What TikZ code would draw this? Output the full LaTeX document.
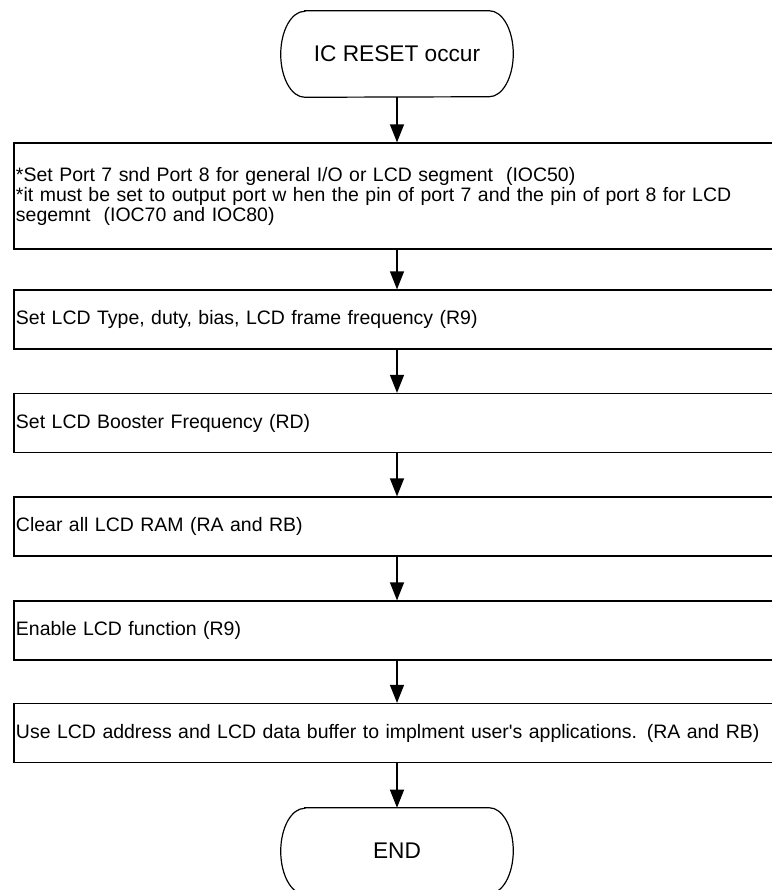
\documentclass[tikz,border=0pt]{standalone}
\usepackage{fontspec}
\setmainfont{Liberation Sans}
\usetikzlibrary{
  arrows.meta,
  positioning,
}
\tikzset{
  >={Triangle[length=13.5pt,width=10.5pt]},
  termnode/.style={minimum width=174pt, minimum height=64.5pt, inner sep=0pt,
    font=\fontsize{17pt}{19pt}\selectfont},
  procbox/.style={draw, line width=0.9pt, minimum width=574.5pt, inner xsep=1.5pt,
    text width=571.5pt, align=left, font=\fontsize{14.6pt}{15pt}\selectfont},
  flow/.style={->, line width=0.9pt},
}

\begin{document}
\begin{tikzpicture}[x=0.75pt, y=-0.75pt]
      \useasboundingbox (0, 0) rectangle (772, 890);

      % terminals
      \node [termnode] (reset) at (397, 54) {IC RESET occur};
      \node [termnode] (finish) at (397, 851) {END};
      \foreach \t in {reset, finish}
      {
        \draw [line width=0.9pt] ([xshift=18pt]\t.north west) -- ([xshift=-18pt]\t.north east)
          arc [start angle=90, end angle=-90, x radius=18pt, y radius=32.25pt]
          -- ([xshift=18pt]\t.south west)
          arc [start angle=270, end angle=90, x radius=18pt, y radius=32.25pt] -- cycle;
      }

      % process steps
      \node [procbox, minimum height=79.5pt] (portio) at (397, 196)
        {*Set Port 7 snd Port 8 for general I/O or LCD segment\ \ (IOC50)\\{}
         *it must be set to output port w hen the pin of port 7 and the pin of port 8 for LCD\\{}
         segemnt\ \ (IOC70 and IOC80)};
      \node [procbox, minimum height=44.25pt] (lcdtype) at (397, 319.5)
        {Set LCD Type, duty, bias, LCD frame frequency (R9)};
      \node [procbox, minimum height=44.25pt] (booster) at (397, 423)
        {Set LCD Booster Frequency (RD)};
      \node [procbox, minimum height=44.25pt] (clearram) at (397, 526.5)
        {Clear all LCD RAM (RA and RB)};
      \node [procbox, minimum height=44.25pt] (enable) at (397, 630.5)
        {Enable LCD function (R9)};
      \node [procbox, minimum height=44.25pt] (useapp) at (397, 733)
        {Use LCD address and LCD data buffer to implment user\textquotesingle s applications. (RA and RB)};

      \draw [flow] (reset.south) -- (portio.north);
      \draw [flow] (portio.south) -- (lcdtype.north);
      \draw [flow] (lcdtype.south) -- (booster.north);
      \draw [flow] (booster.south) -- (clearram.north);
      \draw [flow] (clearram.south) -- (enable.north);
      \draw [flow] (enable.south) -- (useapp.north);
      \draw [flow] (useapp.south) -- (finish.north);
    \end{tikzpicture}
\end{document}
